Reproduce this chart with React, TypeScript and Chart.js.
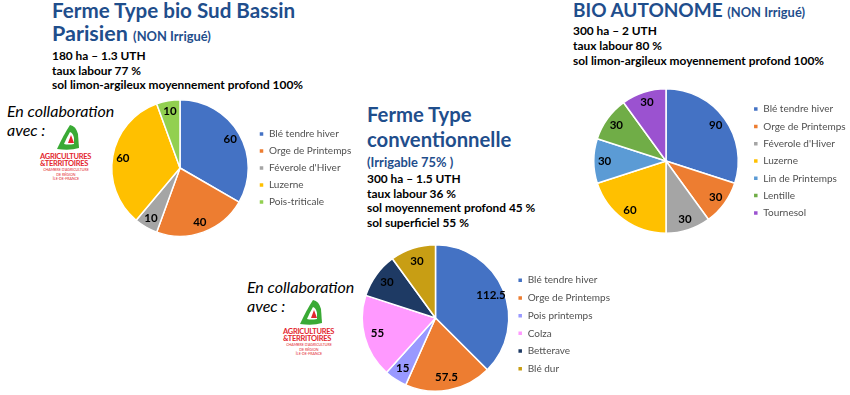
import React, { useEffect, useRef } from 'react';
import { Chart, registerables } from 'chart.js';

Chart.register(...registerables);

// ---- data ----
const bioLabels = ['Blé tendre hiver', 'Orge de Printemps', "Féverole d'Hiver", 'Luzerne', 'Pois-triticale'];
const bioValues = [60, 40, 10, 60, 10];
const bioColors = ['#4472C4', '#ED7D31', '#A5A5A5', '#FFC000', '#92D050'];

const convLabels = ['Blé tendre hiver', 'Orge de Printemps', 'Pois printemps', 'Colza', 'Betterave', 'Blé dur'];
const convValues = [112.5, 57.5, 15, 55, 30, 30];
const convColors = ['#4472C4', '#ED7D31', '#9999FF', '#FF99FF', '#1E3A64', '#C89E14'];

const autoLabels = ['Blé tendre hiver', 'Orge de Printemps', "Féverole d'Hiver", 'Luzerne', 'Lin de Printemps', 'Lentille', 'Tournesol'];
const autoValues = [90, 30, 30, 60, 30, 30, 30];
const autoColors = ['#4472C4', '#ED7D31', '#A5A5A5', '#FFC000', '#5B9BD5', '#70AD47', '#9B52D0'];

const TITLE = '#1F4E8C';
const FONT = 'Lato, "Open Sans", sans-serif';

const sliceLabels = {
  id: 'sliceLabels',
  afterDatasetsDraw(chart: any, _args: any, opts: any) {
    const ctx = chart.ctx;
    const meta = chart.getDatasetMeta(0);
    const data = chart.data.datasets[0].data;
    ctx.save();
    ctx.font = 'bold 11.5px ' + FONT;
    ctx.fillStyle = '#000';
    ctx.textAlign = 'center';
    ctx.textBaseline = 'middle';
    meta.data.forEach((arc: any, i: number) => {
      const p = arc.getProps(['x', 'y', 'startAngle', 'endAngle', 'outerRadius'], true);
      const mid = (p.startAngle + p.endAngle) / 2;
      const r = p.outerRadius * (opts.factor || 0.83);
      ctx.fillText(String(data[i]), p.x + Math.cos(mid) * r, p.y + Math.sin(mid) * r);
    });
    ctx.restore();
  },
};

type PieProps = {
  labels: string[];
  values: number[];
  colors: string[];
  left: number;
  top: number;
  area: number;
  height: number;
  labelPad: number;
  factor: number;
  legendShift: number;
};

function PieChart(props: PieProps) {
  const ref = useRef<HTMLCanvasElement>(null);
  const width = props.area + 170;
  useEffect(() => {
    const chart: any = new Chart(ref.current as HTMLCanvasElement, {
      type: 'pie',
      data: {
        labels: props.labels,
        datasets: [
          {
            data: props.values,
            backgroundColor: props.colors,
            borderColor: '#ffffff',
            borderWidth: 1.5,
            hoverOffset: 0,
          },
        ],
      },
      options: {
        responsive: false,
        animation: false,
        devicePixelRatio: 1,
        layout: { padding: { right: 0 } },
        plugins: {
          legend: {
            position: 'right',
            align: 'center',
            title: {
              display: props.legendShift > 0,
              text: ' ',
              font: { size: 1 },
              padding: { top: Math.max(0, props.legendShift * 2 - 1.2), bottom: 0 },
            },
            labels: {
              boxWidth: 5,
              boxHeight: 5,
              padding: props.labelPad,
              color: '#505050',
              font: { family: FONT, size: 10 },
            },
          },
          tooltip: { enabled: false },
          sliceLabels: { factor: props.factor },
        } as any,
      },
      plugins: [sliceLabels],
    });
    const lw = chart.legend.width;
    chart.options.layout.padding = { right: Math.max(0, width - props.area - lw) };
    chart.update();
    return () => chart.destroy();
  }, []);
  return (
    <canvas
      ref={ref}
      width={width}
      height={props.height}
      style={{ position: 'absolute', left: props.left, top: props.top, width, height: props.height }}
    />
  );
}

function Line({ x, b, s, children, color = '#000', italic = false, weight = 700, ls = 0, ws = 0 }: any) {
  return (
    <div
      style={{
        position: 'absolute',
        left: x,
        top: b - 0.887 * s,
        fontSize: s,
        lineHeight: s + 'px',
        fontFamily: FONT,
        fontWeight: weight,
        fontStyle: italic ? 'italic' : 'normal',
        letterSpacing: ls,
        wordSpacing: ws,
        color,
        whiteSpace: 'nowrap',
      }}
    >
      {children}
    </div>
  );
}

function Logo({ x, y }: { x: number; y: number }) {
  return (
    <div style={{ position: 'absolute', left: x, top: y, width: 52, height: 60 }}>
      <svg width={52} height={30} style={{ position: 'absolute', left: 0, top: 0 }}>
        <path d="M30 1 Q36 2 38 10 L39 24 Q30 27 17 25 Q24 10 30 1 Z" fill="#3AAA35" />
        <path d="M30 8 Q33 9 34 14 L34 20 Q28 21 24 20 Q27 13 30 8 Z" fill="#ffffff" />
        <path d="M31 11 L34 19 L28 19 Z" fill="#E3262E" />
      </svg>
      <div style={{ position: 'absolute', left: 0, top: 29, fontFamily: FONT, fontWeight: 700, fontSize: 7.5, lineHeight: '7px', color: '#E3262E', letterSpacing: -0.3, whiteSpace: 'nowrap' }}>
        AGRICULTURES
      </div>
      <div style={{ position: 'absolute', left: 0, top: 36, fontFamily: FONT, fontWeight: 700, fontSize: 7.5, lineHeight: '7px', color: '#E3262E', letterSpacing: -0.3, whiteSpace: 'nowrap' }}>
        &amp;TERRITOIRES
      </div>
      <div style={{ position: 'absolute', left: 2, top: 44, width: 48, textAlign: 'center', fontFamily: FONT, fontSize: 3.6, lineHeight: '4.5px', color: '#E3262E', whiteSpace: 'nowrap' }}>
        CHAMBRE D'AGRICULTURE
        <br />
        DE RÉGION
        <br />
        ÎLE-DE-FRANCE
      </div>
    </div>
  );
}

export default function App() {
  const T = 20.3;
  const B = 11.9;
  const S = 12.9;
  return (
    <div style={{ position: 'fixed', left: 0, top: 0, width: 850, height: 395, background: '#fff', overflow: 'hidden' }}>
      {/* Left block */}
      <Line x={52} b={18} s={20.6} color={TITLE}>Ferme Type bio Sud Bassin</Line>
      <Line x={52} b={42.5} s={21.5} color={TITLE}>
        Parisien <span style={{ fontSize: S }}>(NON Irrigué)</span>
      </Line>
      <Line x={52} b={60.5} s={B}>180 ha – 1.3 UTH</Line>
      <Line x={52} b={75.5} s={B}>taux labour 77 %</Line>
      <Line x={52} b={90} s={B}>sol limon-argileux moyennement profond 100%</Line>
      <Line x={7} b={117} s={16} italic weight={400}>En collaboration</Line>
      <Line x={7} b={136} s={16} italic weight={400}>avec :</Line>
      <Logo x={40} y={124} />

      {/* Middle block */}
      <Line x={367} b={122} s={T} color={TITLE}>Ferme Type</Line>
      <Line x={367} b={147} s={T} color={TITLE}>conventionnelle</Line>
      <Line x={367} b={167.5} s={S} color={TITLE}>(Irrigable 75% )</Line>
      <Line x={367} b={183.5} s={B}>300 ha – 1.5 UTH</Line>
      <Line x={367} b={198.5} s={B}>taux labour 36 %</Line>
      <Line x={367} b={213} s={B}>sol moyennement profond 45 %</Line>
      <Line x={367} b={227.5} s={B}>sol superficiel 55 %</Line>
      <Line x={247} b={293} s={16} italic weight={400}>En collaboration</Line>
      <Line x={247} b={312} s={16} italic weight={400}>avec :</Line>
      <Logo x={283} y={299} />

      {/* Right block */}
      <Line x={573} b={17} s={19} color={TITLE}>
        BIO AUTONOME <span style={{ fontSize: S }}>(NON Irrigué)</span>
      </Line>
      <Line x={573} b={36} s={B}>300 ha – 2 UTH</Line>
      <Line x={573} b={51} s={B}>taux labour 80 %</Line>
      <Line x={573} b={66} s={B}>sol limon-argileux moyennement profond 100%</Line>

      <PieChart labels={bioLabels} values={bioValues} colors={bioColors} left={108} top={99} area={144} height={138} labelPad={7} factor={0.85} legendShift={0} />
      <PieChart labels={convLabels} values={convValues} colors={convColors} left={361} top={244} area={149} height={148} labelPad={7.7} factor={0.82} legendShift={6.5} />
      <PieChart labels={autoLabels} values={autoValues} colors={autoColors} left={586} top={88} area={160} height={146} labelPad={7.3} factor={0.85} legendShift={0} />
    </div>
  );
}
